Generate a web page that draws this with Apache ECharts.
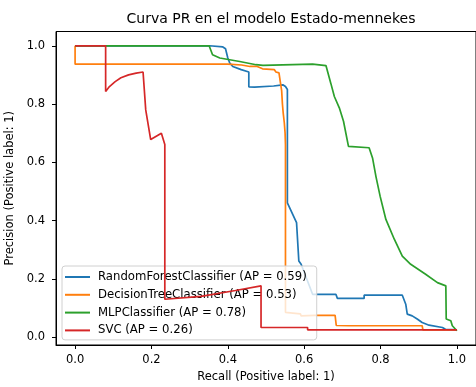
<!DOCTYPE html>
<html>
<head>
<meta charset="utf-8">
<script src="https://cdn.jsdelivr.net/npm/echarts@6/dist/echarts.min.js"></script>
<style>
  html, body { margin: 0; padding: 0; background: #fff; }
  #chart { width: 476px; height: 387px; }
</style>
</head>
<body>
<div id="chart"></div>
<script>
// curve points (recall, precision)
const rfRecall = [0, 0.352, 0.387, 0.394, 0.400, 0.405, 0.413, 0.435, 0.455, 0.455, 0.47, 0.52, 0.544, 0.551, 0.556, 0.556, 0.580, 0.586, 0.592, 0.622, 0.683, 0.687, 0.757, 0.757, 0.857, 0.866, 0.870, 0.883, 0.896, 0.909, 0.927, 0.962, 0.970, 1.0];
const rfPrecision = [1.0, 1.0, 0.996, 0.990, 0.958, 0.941, 0.929, 0.918, 0.910, 0.859, 0.858, 0.862, 0.866, 0.860, 0.850, 0.461, 0.393, 0.261, 0.250, 0.147, 0.147, 0.133, 0.133, 0.144, 0.144, 0.113, 0.079, 0.073, 0.062, 0.050, 0.041, 0.033, 0.027, 0.025];

const dtRecall = [0, 0, 0.40, 0.436, 0.458, 0.477, 0.482, 0.491, 0.522, 0.526, 0.534, 0.537, 0.541, 0.543, 0.545, 0.548, 0.550, 0.551, 0.551, 0.590, 0.592, 0.627, 0.681, 0.684, 0.716, 0.909, 0.911, 1.0];
const dtPrecision = [1.0, 0.937, 0.937, 0.934, 0.929, 0.929, 0.923, 0.921, 0.918, 0.910, 0.907, 0.880, 0.846, 0.800, 0.770, 0.735, 0.700, 0.660, 0.085, 0.080, 0.073, 0.075, 0.075, 0.040, 0.039, 0.039, 0.025, 0.025];

const mlpRecall = [0, 0.351, 0.360, 0.379, 0.431, 0.474, 0.492, 0.622, 0.657, 0.670, 0.679, 0.692, 0.703, 0.716, 0.770, 0.779, 0.788, 0.799, 0.814, 0.836, 0.857, 0.879, 0.918, 0.949, 0.971, 0.972, 0.984, 0.988, 1.0];
const mlpPrecision = [1.0, 1.0, 0.969, 0.958, 0.946, 0.935, 0.933, 0.937, 0.932, 0.870, 0.826, 0.787, 0.741, 0.655, 0.650, 0.615, 0.551, 0.483, 0.404, 0.336, 0.278, 0.250, 0.216, 0.187, 0.176, 0.062, 0.056, 0.039, 0.022];

const svcRecall = [0, 0.080, 0.080, 0.090, 0.105, 0.120, 0.140, 0.160, 0.178, 0.185, 0.198, 0.226, 0.235, 0.235, 0.330, 0.420, 0.487, 0.487, 0.609, 0.609, 1.0];
const svcPrecision = [1.0, 1.0, 0.843, 0.860, 0.877, 0.890, 0.900, 0.906, 0.910, 0.78, 0.678, 0.700, 0.661, 0.130, 0.140, 0.160, 0.176, 0.033, 0.033, 0.025, 0.025];

const names = [
  'RandomForestClassifier (AP = 0.59)',
  'DecisionTreeClassifier (AP = 0.53)',
  'MLPClassifier (AP = 0.78)',
  'SVC (AP = 0.26)'
];
const colors = ['#1f77b4', '#ff7f0e', '#2ca02c', '#d62728'];
const tickValues = [0, 0.2, 0.4, 0.6, 0.8, 1.0];

const zip = (xs, ys) => xs.map((x, i) => [x, ys[i]]);
const curves = [
  zip(rfRecall, rfPrecision),
  zip(dtRecall, dtPrecision),
  zip(mlpRecall, mlpPrecision),
  zip(svcRecall, svcPrecision)
];

const font = 'DejaVu Sans';
const chart = echarts.init(document.getElementById('chart'), null, { renderer: 'canvas' });

chart.setOption({
  backgroundColor: '#fff',
  animation: false,
  title: {
    text: 'Curva PR en el modelo Estado-mennekes',
    left: 266, top: 7, textAlign: 'center',
    textStyle: { fontFamily: font, fontSize: 14, fontWeight: 'normal', color: '#000' }
  },
  grid: {
    left: 56, right: 0, top: 31.5, bottom: 42,
    outerBoundsMode: 'none', containLabel: false,
    show: true, borderColor: '#000', borderWidth: 1, backgroundColor: 'transparent'
  },
  legend: {
    orient: 'vertical',
    left: 62, top: 266,
    data: names.map(n => ({ name: n, icon: 'rect' })),
    itemWidth: 25, itemHeight: 2, itemGap: 4.8,
    padding: [4.5, 10, 3, 3],
    backgroundColor: 'rgba(255,255,255,0.8)',
    borderColor: '#d0d0d0', borderWidth: 1, borderRadius: 3,
    textStyle: { fontFamily: font, fontSize: 11.7, color: '#000', lineHeight: 13, padding: [0, 0, 0, 3] }
  },
  xAxis: {
    type: 'value', min: -0.05, max: 1.05,
    name: 'Recall (Positive label: 1)',
    nameLocation: 'middle', nameGap: 25,
    nameTextStyle: { fontFamily: font, fontSize: 11.5, color: '#000' },
    axisLine: { show: true, onZero: false, lineStyle: { color: '#000', width: 1 } },
    axisTick: { show: true, length: 4, customValues: tickValues, lineStyle: { color: '#000' } },
    axisLabel: { customValues: tickValues, margin: 9, fontFamily: font, fontSize: 11.5, color: '#000',
      formatter: v => v.toFixed(1) },
    splitLine: { show: false }
  },
  yAxis: {
    type: 'value', min: -0.027, max: 1.049,
    name: 'Precision (Positive label: 1)',
    nameLocation: 'middle', nameGap: 29, nameRotate: 90,
    nameTextStyle: { fontFamily: font, fontSize: 11.5, color: '#000' },
    axisLine: { show: true, onZero: false, lineStyle: { color: '#000', width: 1 } },
    axisTick: { show: true, length: 4, customValues: tickValues, lineStyle: { color: '#000' } },
    axisLabel: { customValues: tickValues, margin: 11, fontFamily: font, fontSize: 11.5, color: '#000',
      formatter: v => v.toFixed(1) },
    splitLine: { show: false }
  },
  series: curves.map((d, i) => ({
    name: names[i],
    type: 'line',
    data: d,
    showSymbol: false,
    symbol: 'none',
    clip: true,
    color: colors[i],
    lineStyle: { color: colors[i], width: 1.7 },
    z: 2 + i
  }))
});
</script>
</body>
</html>
